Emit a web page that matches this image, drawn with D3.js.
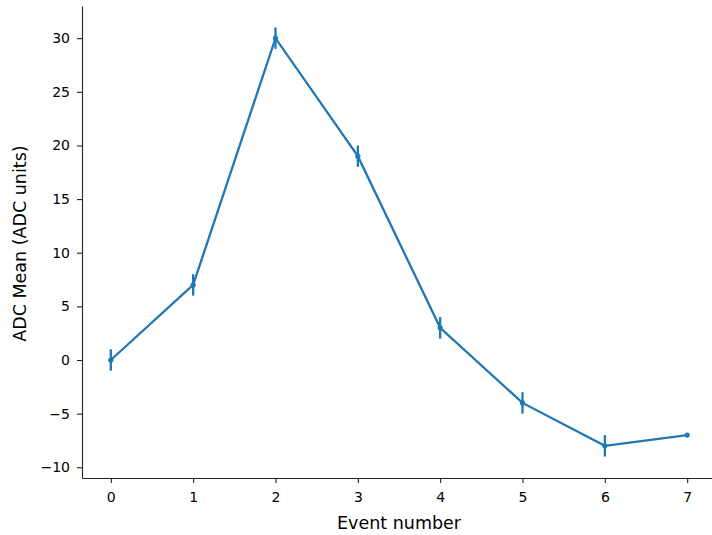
<!DOCTYPE html>
<html lang="en">
<head>
    <meta charset="UTF-8">
    <title>ADC Mean per Event</title>
    <style>
        body { margin: 0; background: #fff; }
        text { font-family: 'DejaVu Sans', sans-serif; fill: #000; }
        .axis path, .axis line { stroke: #222; stroke-width: 1.1px; }
        .axis text { font-size: 14px; font-family: 'DejaVu Sans', sans-serif; }
        .line { fill: none; stroke: #1f77b4; stroke-width: 2.3px; }
        .err { stroke: #1f77b4; stroke-width: 2.3px; }
        .dot { fill: #1f77b4; }
    </style>
</head>
<body>
<script src="https://d3js.org/d3.v7.min.js"></script>
<script>

    const width = 712;
    const height = 535;
    const margin = {'left': 82, 'right': -4, 'top': 6, 'bottom': 57};

    const events = [0, 1, 2, 3, 4, 5, 6, 7];
    const adcMean = [0, 7, 30, 19, 3, -4, -8, -7];
    const adcErr = [1, 1, 1, 1, 1, 1, 1, 0];
    const xTicks = [0, 1, 2, 3, 4, 5, 6, 7];
    const yTicks = [-10, -5, 0, 5, 10, 15, 20, 25, 30];

    const data = events.map(function(e, i) {
        return {'x': e, 'y': adcMean[i], 'err': adcErr[i]};
    });

    let svg = d3.select('body').append('svg')
        .attr('width', width)
        .attr('height', height);

    let x = d3.scaleLinear()
        .domain([-0.35, 7.35])
        .range([margin.left, width - margin.right]);

    let y = d3.scaleLinear()
        .domain([-11, 33])
        .range([height - margin.bottom, margin.top]);

    // axes, matplotlib style (only left + bottom spines)
    let xAxis = svg.append('g')
        .attr('class', 'axis')
        .attr('transform', 'translate(0,' + (height - margin.bottom) + ')')
        .call(d3.axisBottom(x).tickValues(xTicks).tickSize(5).tickPadding(9).tickSizeOuter(0));

    let yAxis = svg.append('g')
        .attr('class', 'axis')
        .attr('transform', 'translate(' + margin.left + ',0)')
        .call(d3.axisLeft(y).tickValues(yTicks).tickSize(5).tickPadding(7).tickSizeOuter(0)
            .tickFormat(function(d) { return d < 0 ? '\u2212' + Math.abs(d) : d; }));

    // error bars
    svg.selectAll('.err')
        .data(data.filter(function(d) { return d.err > 0; }))
        .enter().append('line')
        .attr('class', 'err')
        .attr('x1', function(d) { return x(d.x); })
        .attr('x2', function(d) { return x(d.x); })
        .attr('y1', function(d) { return y(d.y - d.err); })
        .attr('y2', function(d) { return y(d.y + d.err); });

    svg.append('path')
        .datum(data)
        .attr('class', 'line')
        .attr('d', d3.line()
            .x(function(d) { return x(d.x); })
            .y(function(d) { return y(d.y); }));

    svg.selectAll('.dot')
        .data(data)
        .enter().append('circle')
        .attr('class', 'dot')
        .attr('cx', function(d) { return x(d.x); })
        .attr('cy', function(d) { return y(d.y); })
        .attr('r', 2.6);

    // axis labels
    svg.append('text')
        .attr('x', 399)
        .attr('y', 529)
        .attr('text-anchor', 'middle')
        .style('font-size', '17.5px')
        .text('Event number');

    svg.append('text')
        .attr('transform', 'translate(26,' + y(10.85) + ') rotate(-90)')
        .attr('text-anchor', 'middle')
        .style('font-size', '17.5px')
        .text('ADC Mean (ADC units)');

</script>
</body>
</html>
